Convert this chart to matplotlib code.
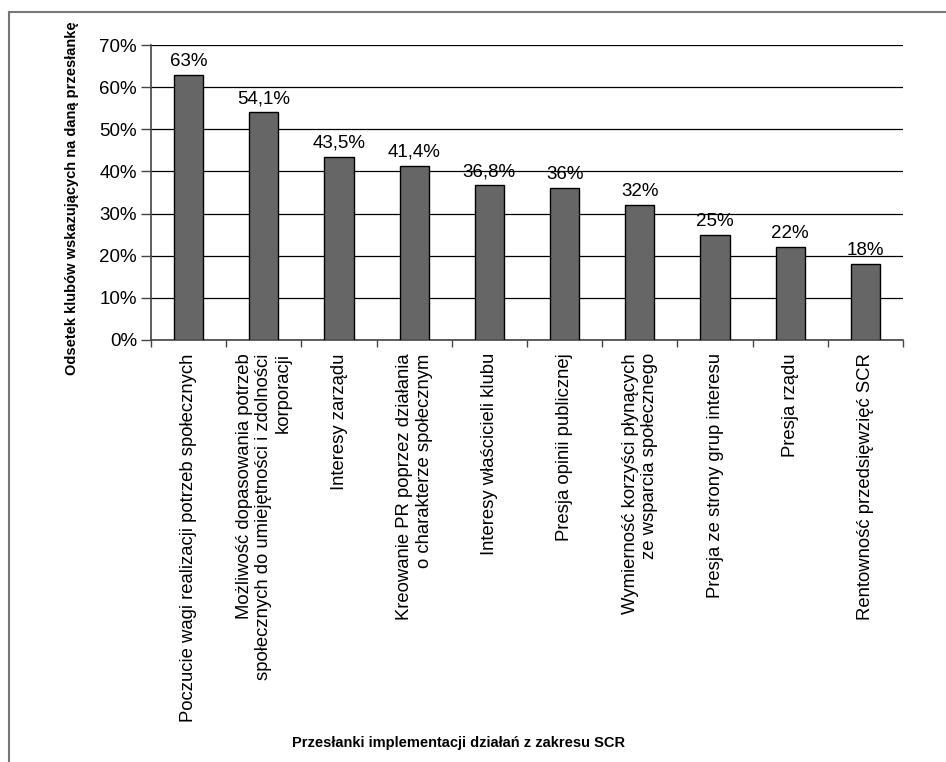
import matplotlib.pyplot as plt
from matplotlib.lines import Line2D
from matplotlib.ticker import MultipleLocator, FuncFormatter, FixedLocator

plt.rcParams['font.family'] = ['Liberation Sans', 'DejaVu Sans']

# Data
categories = [
    'Poczucie wagi realizacji potrzeb społecznych',
    'Możliwość dopasowania potrzeb\nspołecznych do umiejętności i zdolności\nkorporacji',
    'Interesy zarządu',
    'Kreowanie PR poprzez działania\no charakterze społecznym',
    'Interesy właścicieli klubu',
    'Presja opinii publicznej',
    'Wymierność korzyści płynących\nze wsparcia społecznego',
    'Presja ze strony grup interesu',
    'Presja rządu',
    'Rentowność przedsięwzięć SCR',
]
values = [63, 54.1, 43.5, 41.4, 36.8, 36, 32, 25, 22, 18]
value_labels = ['63%', '54,1%', '43,5%', '41,4%', '36,8%', '36%', '32%', '25%', '22%', '18%']

fig = plt.figure(figsize=(9.46, 7.62), dpi=100)
ax = fig.add_axes([151 / 946, 1 - 340 / 762, 752 / 946, 295 / 762])

x = range(len(categories))
ax.bar(x, values, width=0.39, color='#666666', edgecolor='black', linewidth=1, zorder=3)

# Value labels above bars
for i, (v, lab) in enumerate(zip(values, value_labels)):
    ax.annotate(lab, (i, v), xytext=(0, 3.5), textcoords='offset points',
                ha='center', va='bottom', fontsize=13.5)

ax.set_xlim(-0.5, len(categories) - 0.5)
ax.set_ylim(0, 70)
ax.yaxis.set_major_locator(MultipleLocator(10))
ax.yaxis.set_major_formatter(FuncFormatter(lambda v, p: f'{v:.0f}%'))
ax.grid(axis='y', color='black', linewidth=0.9, zorder=0)

# x ticks at category boundaries, labels at centers
ax.xaxis.set_major_locator(FixedLocator([i - 0.5 for i in range(len(categories) + 1)]))
ax.set_xticklabels([])
ax.xaxis.set_minor_locator(FixedLocator(list(x)))
ax.set_xticklabels(categories, minor=True, rotation=90, ha='center', va='top',
                   multialignment='right', fontsize=13.3)
ax.tick_params(axis='x', which='minor', length=0, pad=9.5)
ax.tick_params(axis='x', which='major', length=5, width=1, direction='out', color='#444444')
ax.tick_params(axis='y', length=7, width=1, color='#444444', labelsize=13.5, pad=3)

for s in ['top', 'right']:
    ax.spines[s].set_visible(False)
ax.spines['left'].set_color('#444444')
ax.spines['bottom'].set_color('#444444')
ax.spines['left'].set_linewidth(1.2)
ax.spines['bottom'].set_linewidth(1.2)

ax.set_ylabel('Odsetek klubów wskazujących na daną przesłankę', fontsize=10.5,
              fontweight='bold')
ax.yaxis.set_label_coords(-0.096, 0.48)
fig.text(458 / 946, 1 - 743 / 762, 'Przesłanki implementacji działań z zakresu SCR',
         ha='center', va='center', fontsize=10.5, fontweight='bold')

# Outer border (only left and top visible)
fig.add_artist(Line2D([9 / 946, 9 / 946], [0, 1 - 12 / 762], color='#777777', linewidth=1.5))
fig.add_artist(Line2D([9 / 946, 1], [1 - 12 / 762, 1 - 12 / 762], color='#777777', linewidth=1.5))

fig.savefig('out.png', dpi=100)
